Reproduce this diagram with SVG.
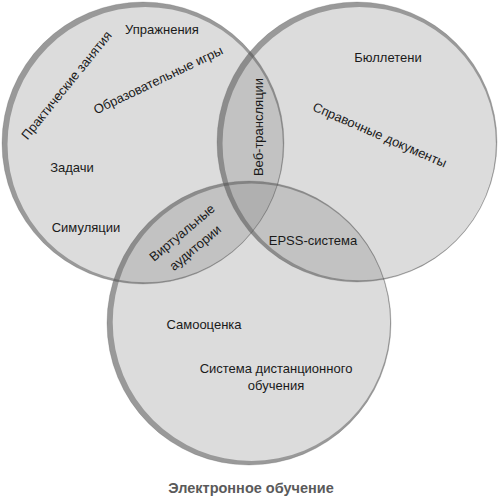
<svg xmlns="http://www.w3.org/2000/svg" width="500" height="497" viewBox="0 0 500 497">
<style>
.fill{fill:#808080;fill-opacity:0.28;stroke:#707070;stroke-opacity:0.35;stroke-width:0.8}
.ring{fill:#555555;fill-opacity:0.5;fill-rule:evenodd}
.lbl{font-family:"Liberation Sans",Arial,sans-serif;font-size:13px;fill:#1a1a1a}
.title{font-family:"Liberation Sans",Arial,sans-serif;font-size:14.5px;font-weight:bold;fill:#5a5a5a}
</style>
<rect width="500" height="497" fill="#fff"/>
<g id="circle-practice">
<circle class="fill" cx="143" cy="143" r="141"/>
</g>
<g id="circle-info">
<circle class="fill" cx="357" cy="142" r="140"/>
</g>
<g id="circle-collab">
<circle class="fill" cx="249" cy="323" r="142"/>
</g>
<g id="rings">
<path class="ring" d="M2,143 a141,141 0 1,0 282,0 a141,141 0 1,0 -282,0 Z M7.5,144.6 a137.7,137.7 0 1,0 275.4,0 a137.7,137.7 0 1,0 -275.4,0 Z"/>
<path class="ring" d="M217,142 a140,140 0 1,0 280,0 a140,140 0 1,0 -280,0 Z M222.5,143.6 a136.7,136.7 0 1,0 273.4,0 a136.7,136.7 0 1,0 -273.4,0 Z"/>
<path class="ring" d="M107,323 a142,142 0 1,0 284,0 a142,142 0 1,0 -284,0 Z M112.7,322.2 a138.7,138.7 0 1,0 277.4,0 a138.7,138.7 0 1,0 -277.4,0 Z"/>
</g>
<g id="connectors"/>
<g id="labels">
<g id="l-upr"><text class="lbl" x="162" y="34" text-anchor="middle">Упражнения</text></g>
<g id="l-prak"><text class="lbl" transform="translate(70,88) rotate(-51)" text-anchor="middle">Практические занятия</text></g>
<g id="l-obr"><text class="lbl" transform="translate(160,84) rotate(-25.5)" text-anchor="middle">Образовательные игры</text></g>
<g id="l-zad"><text class="lbl" x="72" y="172" text-anchor="middle">Задачи</text></g>
<g id="l-sim"><text class="lbl" x="86" y="232" text-anchor="middle">Симуляции</text></g>
<g id="l-bul"><text class="lbl" x="388" y="62" text-anchor="middle">Бюллетени</text></g>
<g id="l-spr"><text class="lbl" transform="translate(378,139) rotate(23.5)" text-anchor="middle">Справочные документы</text></g>
<g id="l-veb"><text class="lbl" transform="translate(263,127) rotate(-90)" text-anchor="middle">Веб-трансляции</text></g>
<g id="l-virt"><text class="lbl" transform="translate(185,236) rotate(-40)" text-anchor="middle">Виртуальные</text><text class="lbl" transform="translate(198,251) rotate(-40)" text-anchor="middle">аудитории</text></g>
<g id="l-epss"><text class="lbl" x="313" y="245" text-anchor="middle">EPSS-система</text></g>
<g id="l-samo"><text class="lbl" x="204" y="329" text-anchor="middle">Самооценка</text></g>
<g id="l-sdo"><text class="lbl" x="276" y="373" text-anchor="middle">Система дистанционного</text><text class="lbl" x="276" y="390" text-anchor="middle">обучения</text></g>
<g id="title"><text class="title" x="251" y="493" text-anchor="middle">Электронное обучение</text></g>
</g>
</svg>
